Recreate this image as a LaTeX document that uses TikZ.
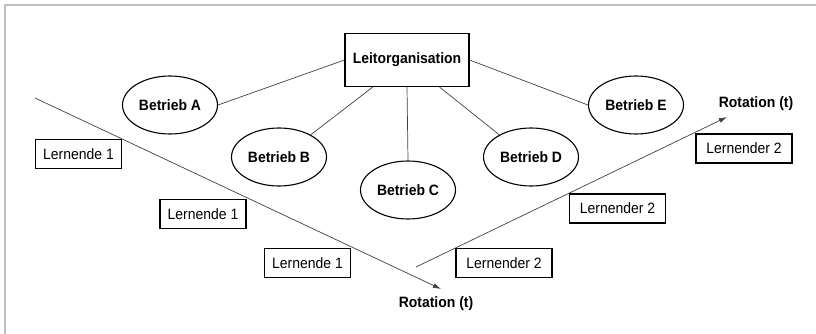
\documentclass[tikz,border=0pt]{standalone}
\usepackage{fontspec}
\setmainfont{Liberation Sans}
\usetikzlibrary{shapes.geometric,arrows.meta,calc}
\newcommand{\nar}[1]{\scalebox{0.93}[1]{#1}}
\begin{document}
\begin{tikzpicture}[x=1pt,y=-1pt,
  font=\fontsize{15}{17}\selectfont,
  lead/.style={draw=black,line width=1.2pt,minimum width=124pt,minimum height=53pt,inner sep=0pt,font=\fontsize{15}{17}\selectfont\bfseries},
  firm/.style={ellipse,draw=black,line width=1.1pt,minimum width=95pt,minimum height=58pt,inner sep=0pt,font=\fontsize{15}{17}\selectfont\bfseries},
  learnbox/.style={draw=black,line width=1.1pt,minimum height=29pt,inner sep=0pt},
  link/.style={draw=black!75,line width=0.7pt},
  rot/.style={draw=black!75,line width=0.7pt,-{Latex[length=8pt,width=5pt]}},
  rotlabel/.style={font=\fontsize{15}{17}\selectfont\bfseries,inner sep=0pt},
  frame/.style={draw=black!25,line width=1.5pt}]
\useasboundingbox (0,0) rectangle (816,334);
\draw[frame] (5,334) -- (5,5) -- (816,5);

\node[lead] (L) at (407,60) {\nar{Leitorganisation}};
\node[firm] (A) at (170,105) {\nar{Betrieb A}};
\node[firm] (B) at (279,157) {\nar{Betrieb B}};
\node[firm] (C) at (408,190) {\nar{Betrieb C}};
\node[firm] (D) at (531,157) {\nar{Betrieb D}};
\node[firm] (E) at (636,105) {\nar{Betrieb E}};

\draw[link] (L.west) -- (A.east);
\draw[link] (L.east) -- (E.west);
\draw[link] ($(L.south west)!0.226!(L.south east)$) -- (B.35);
\draw[link] (L.south) -- (C.north);
\draw[link] ($(L.south west)!0.76!(L.south east)$) -- (D.145);

\node[learnbox,minimum width=86pt] (l1) at (78.5,154) {\nar{Lernende 1}};
\node[learnbox,minimum width=86pt] (l2) at (203,214) {\nar{Lernende 1}};
\node[learnbox,minimum width=86pt] (l3) at (307.5,263) {\nar{Lernende 1}};
\node[learnbox,minimum width=96pt] (r1) at (504,263) {\nar{Lernender 2}};
\node[learnbox,minimum width=96pt] (r2) at (617.5,208.5) {\nar{Lernender 2}};
\node[learnbox,minimum width=96pt] (r3) at (744,148.5) {\nar{Lernender 2}};

\coordinate (ls) at (35,98);
\coordinate (le) at (441,289);
\coordinate (rs) at (416,267);
\coordinate (re) at (727,117);
\draw[rot] (ls) -- (le);
\draw[rot] (rs) -- (re);

\node[rotlabel] (t1) at (436,304) {\nar{Rotation (t)}};
\node[rotlabel] (t2) at (756,104) {\nar{Rotation (t)}};
\end{tikzpicture}
\end{document}
